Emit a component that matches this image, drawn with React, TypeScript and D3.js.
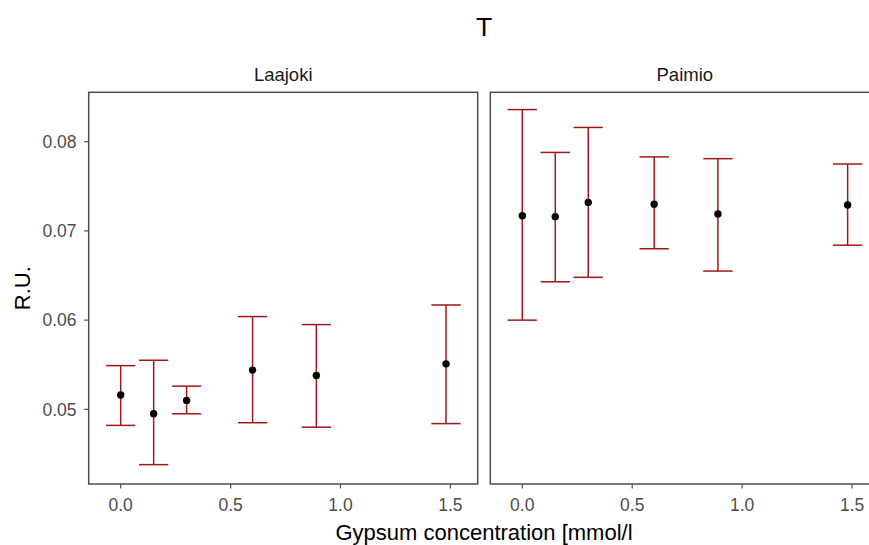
import React from "react";
import * as d3 from "d3";

const xVals = [0, 0.15, 0.3, 0.6, 0.89, 1.48];
const panels = ["Laajoki", "Paimio"];
const laajokiMean = [0.0516, 0.0495, 0.051, 0.0544, 0.0538, 0.0551];
const laajokiLow = [0.0482, 0.0438, 0.0495, 0.0485, 0.048, 0.0484];
const laajokiHigh = [0.0549, 0.0555, 0.0526, 0.0604, 0.0595, 0.0617];
const paimioMean = [0.0717, 0.0716, 0.0732, 0.073, 0.0719, 0.0729];
const paimioLow = [0.06, 0.0643, 0.0648, 0.068, 0.0655, 0.0684];
const paimioHigh = [0.0836, 0.0788, 0.0816, 0.0783, 0.0781, 0.0775];
const xTicks = [0, 0.5, 1.0, 1.5];
const yTicks = [0.05, 0.06, 0.07, 0.08];

const W = 869;
const H = 545;
const FONT = "'Liberation Sans', Arial, sans-serif";
const panelTop = 92.3;
const panelBottom = 484;
const panelW = 389;
const panelLefts = [88.7, 490.3];
const errColor = "#a01818";
const axisTextColor = "#4d4d4d";

export default function App() {
  const y = d3.scaleLinear().domain([0.04163, 0.08554]).range([panelBottom, panelTop]);
  const xBase = d3.scaleLinear().domain([-0.1455, 1.624]).range([0, panelW]);
  const capHalf = xBase(0.0667) - xBase(0);
  const series = [
    { mean: laajokiMean, low: laajokiLow, high: laajokiHigh },
    { mean: paimioMean, low: paimioLow, high: paimioHigh },
  ];
  const plotCenter = (panelLefts[0] + panelLefts[1] + panelW) / 2;

  return (
    <svg
      width={W}
      height={H}
      style={{ position: "absolute", left: 0, top: 0, background: "#fff" }}
      fontFamily={FONT}
    >
      <rect x={0} y={0} width={W} height={H} fill="#fff" />
      <text x={plotCenter} y={35.5} textAnchor="middle" fontSize={26.5} fill="#000">
        T
      </text>
      {panels.map((name, pi) => {
        const left = panelLefts[pi];
        const x = (v: number) => left + xBase(v);
        const s = series[pi];
        return (
          <g key={name}>
            <text x={left + panelW / 2} y={81} textAnchor="middle" fontSize={18.5} fill="#1a1a1a">
              {name}
            </text>
            {xVals.map((xv, i) => (
              <g key={i}>
                <line x1={x(xv)} x2={x(xv)} y1={y(s.low[i])} y2={y(s.high[i])} stroke={errColor} strokeWidth={1.5} />
                <line x1={x(xv) - capHalf} x2={x(xv) + capHalf} y1={y(s.low[i])} y2={y(s.low[i])} stroke={errColor} strokeWidth={1.5} />
                <line x1={x(xv) - capHalf} x2={x(xv) + capHalf} y1={y(s.high[i])} y2={y(s.high[i])} stroke={errColor} strokeWidth={1.5} />
              </g>
            ))}
            {xVals.map((xv, i) => (
              <circle key={"p" + i} cx={x(xv)} cy={y(s.mean[i])} r={3.7} fill="#000" />
            ))}
            <rect x={left} y={panelTop} width={panelW} height={panelBottom - panelTop} fill="none" stroke="#4d4d4d" strokeWidth={1.5} />
            {xTicks.map((t) => (
              <g key={"xt" + t}>
                <line x1={x(t)} x2={x(t)} y1={panelBottom} y2={panelBottom + 4.5} stroke="#4d4d4d" strokeWidth={1.2} />
                <text x={x(t)} y={511} textAnchor="middle" fontSize={17.5} fill={axisTextColor}>
                  {d3.format(".1f")(t)}
                </text>
              </g>
            ))}
          </g>
        );
      })}
      {yTicks.map((t) => (
        <g key={"yt" + t}>
          <line x1={panelLefts[0] - 4.5} x2={panelLefts[0]} y1={y(t)} y2={y(t)} stroke="#4d4d4d" strokeWidth={1.2} />
          <text x={76.5} y={y(t)} dy="0.36em" textAnchor="end" fontSize={17.5} fill={axisTextColor}>
            {d3.format(".2f")(t)}
          </text>
        </g>
      ))}
      <text x={plotCenter} y={540} textAnchor="middle" fontSize={22} fill="#000">
        Gypsum concentration [mmol/l
      </text>
      <text
        transform={`translate(29.5, ${(panelTop + panelBottom) / 2}) rotate(-90)`}
        textAnchor="middle"
        fontSize={22}
        fill="#000"
      >
        R.U.
      </text>
    </svg>
  );
}
